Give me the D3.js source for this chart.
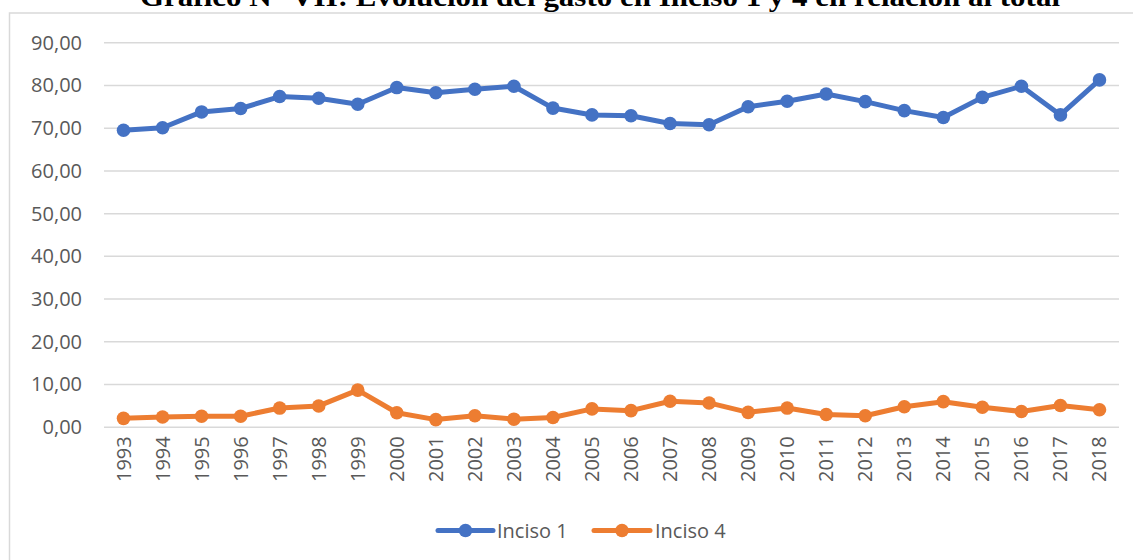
<!DOCTYPE html>
<html>
<head>
<meta charset="utf-8">
<script src="https://cdn.jsdelivr.net/npm/d3@7"></script>
<style>
  html, body { margin: 0; padding: 0; background: #fff; }
  svg { display: block; }
</style>
</head>
<body>
<svg id="chart" width="1133" height="560"></svg>
<script>
const title = "Gráfico N° VII: Evolución del gasto en Inciso 1 y 4 en relación al total";
const years = ["1993","1994","1995","1996","1997","1998","1999","2000","2001","2002","2003","2004","2005","2006","2007","2008","2009","2010","2011","2012","2013","2014","2015","2016","2017","2018"];
const inciso1 = [69.5,70.1,73.8,74.6,77.4,77.0,75.6,79.5,78.3,79.1,79.8,74.7,73.1,72.9,71.1,70.8,75.0,76.3,78.0,76.2,74.1,72.5,77.2,79.8,73.1,81.3];
const inciso4 = [2.1,2.4,2.6,2.6,4.5,5.0,8.7,3.4,1.8,2.7,1.9,2.3,4.3,3.9,6.1,5.7,3.5,4.5,3.0,2.7,4.8,6.0,4.7,3.7,5.1,4.1];
const yTicks = [0,10,20,30,40,50,60,70,80,90];
const seriesNames = ["Inciso 1","Inciso 4"];
const seriesColors = ["#4472C4","#ED7D31"];

const svg = d3.select("#chart");
const font = "'Open Sans', sans-serif";
const textColor = "#595959";

// chart area border
svg.append("rect")
  .attr("x", 9.5).attr("y", 13).attr("width", 1140).attr("height", 600)
  .attr("fill", "#fff").attr("stroke", "#d9d9d9").attr("stroke-width", 1.5);

// title (partially clipped at top)
svg.append("text")
  .attr("x", 140).attr("y", 6)
  .attr("textLength", 920).attr("lengthAdjust", "spacingAndGlyphs")
  .attr("font-family", "'Liberation Serif', 'Times New Roman', serif")
  .attr("font-weight", "bold").attr("font-size", 27).attr("fill", "#000")
  .text(title);

const x = d3.scaleBand().domain(years).range([104, 1119]);
const y = d3.scaleLinear().domain([0, 90]).range([427.3, 42.7]);
const loc = d3.formatLocale({decimal: ",", thousands: ".", grouping: [3], currency: ["", ""]});
const fmt = loc.format(".2f");

// gridlines
svg.append("g").selectAll("line").data(yTicks).join("line")
  .attr("x1", 104).attr("x2", 1119)
  .attr("y1", d => y(d)).attr("y2", d => y(d))
  .attr("stroke", "#d9d9d9").attr("stroke-width", 1.5);

// y axis
const yAxis = svg.append("g").attr("transform", "translate(104,0)")
  .call(d3.axisLeft(y).tickValues(yTicks).tickFormat(fmt).tickSize(0).tickPadding(22));
yAxis.select(".domain").remove();
yAxis.selectAll("text").attr("font-family", font).attr("font-size", 20).attr("fill", textColor);

// x axis
const xAxis = svg.append("g").attr("transform", `translate(0,${y(0)})`)
  .call(d3.axisBottom(x).tickSize(0).tickPadding(0));
xAxis.select(".domain").remove();
xAxis.selectAll("text")
  .attr("font-family", font).attr("font-size", 20).attr("fill", textColor)
  .attr("text-anchor", "end")
  .attr("transform", "translate(0,9) rotate(-90)")
  .attr("dy", "0.35em").attr("y", 0).attr("x", 0);

const cx = d => x(d) + x.bandwidth() / 2;
const line = d3.line().x((d, i) => cx(years[i])).y(d => y(d));

[inciso1, inciso4].forEach((vals, k) => {
  svg.append("path").datum(vals)
    .attr("d", line).attr("fill", "none")
    .attr("stroke", seriesColors[k]).attr("stroke-width", 5)
    .attr("stroke-linejoin", "round").attr("stroke-linecap", "round");
  svg.append("g").selectAll("circle").data(vals).join("circle")
    .attr("cx", (d, i) => cx(years[i])).attr("cy", d => y(d))
    .attr("r", 6.8).attr("fill", seriesColors[k]);
});

// legend
const legendItems = [{x0: 438, x1: 493, tx: 497}, {x0: 594, x1: 650, tx: 655}];
const ly = 530.5;
legendItems.forEach((it, k) => {
  const g = svg.append("g");
  g.append("line").attr("x1", it.x0).attr("x2", it.x1).attr("y1", ly).attr("y2", ly)
    .attr("stroke", seriesColors[k]).attr("stroke-width", 5).attr("stroke-linecap", "round");
  g.append("circle").attr("cx", (it.x0 + it.x1) / 2).attr("cy", ly).attr("r", 6.8).attr("fill", seriesColors[k]);
  g.append("text").attr("x", it.tx).attr("y", ly).attr("dy", "0.35em")
    .attr("font-family", font).attr("font-size", 20).attr("fill", textColor)
    .text(seriesNames[k]);
});
</script>
</body>
</html>
